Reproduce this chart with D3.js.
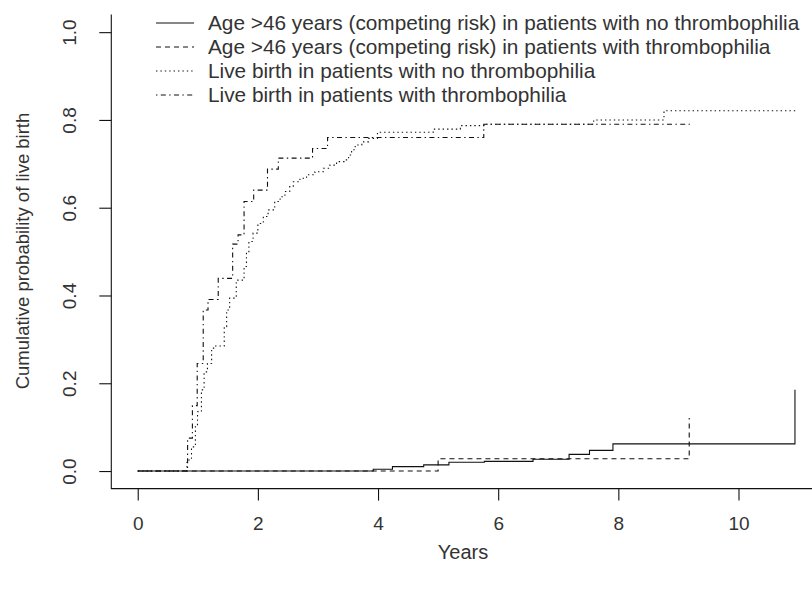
<!DOCTYPE html>
<html>
<head>
<meta charset="utf-8">
<script src="https://cdn.jsdelivr.net/npm/d3@7"></script>
<style>
body { margin: 0; background: #fff; }
svg { display: block; }
text { font-family: "Liberation Sans", Arial, sans-serif; fill: #333; }
</style>
</head>
<body>
<svg id="chart"></svg>
<script>
var w = 812,
	h = 589;

// competing risk, no thrombophilia (solid)
var crNoT = [0, 3.92, 4.24, 4.76, 5.18, 5.77, 6.58, 7.18, 7.52, 7.91, 10.94];
var crNoV = [0, 0.004, 0.010, 0.014, 0.020, 0.022, 0.027, 0.038, 0.047, 0.062, 0.185];
// competing risk, thrombophilia (dashed)
var crThT = [0, 5.00, 9.18];
var crThV = [0, 0.028, 0.121];
// live birth, no thrombophilia (dotted)
var lbNoT = [0, 0.82, 0.895, 0.96, 0.995, 1.06, 1.105, 1.16, 1.23, 1.28, 1.44, 1.48, 1.53, 1.64, 1.77,
	1.81, 1.85, 1.92, 2.0, 2.09, 2.17, 2.28, 2.37, 2.45, 2.53, 2.59, 2.7, 2.81, 2.95, 3.09, 3.2, 3.31,
	3.45, 3.51, 3.56, 3.62, 3.73, 3.84, 3.99, 4.92, 5.37, 5.76, 7.59, 8.76, 10.95];
var lbNoV = [0, 0.025, 0.055, 0.101, 0.135, 0.185, 0.226, 0.245, 0.280, 0.285, 0.329, 0.367, 0.394, 0.435, 0.466,
	0.498, 0.523, 0.542, 0.564, 0.580, 0.595, 0.614, 0.625, 0.637, 0.648, 0.659, 0.667, 0.675, 0.682, 0.690, 0.697, 0.705,
	0.709, 0.720, 0.732, 0.743, 0.750, 0.758, 0.772, 0.779, 0.787, 0.790, 0.800, 0.821, 0.821];
// live birth, thrombophilia (dot-dash)
var lbThT = [0, 0.83, 0.91, 0.99, 1.09, 1.17, 1.34, 1.58, 1.67, 1.77, 1.93, 2.16, 2.34, 2.91, 3.16, 5.76, 9.19];
var lbThV = [0, 0.075, 0.149, 0.245, 0.367, 0.391, 0.439, 0.517, 0.538, 0.614, 0.640, 0.688, 0.713, 0.735, 0.760, 0.790, 0.790];

var xTicks = [0, 2, 4, 6, 8, 10];
var yTicks = [0, 0.2, 0.4, 0.6, 0.8, 1.0];
var legendLabels = [
	"Age >46 years (competing risk) in patients with no thrombophilia",
	"Age >46 years (competing risk) in patients with thrombophilia",
	"Live birth in patients with no thrombophilia",
	"Live birth in patients with thrombophilia"
];
var dashes = ["none", "5,4", "1.4,3", "1.4,3.4,5,3.4"];

var svg = d3.select("#chart").attr("width", w).attr("height", h);

// R style: range padded by 4%
var x = d3.scaleLinear().domain([-0.44, 11.44]).range([111.3, 825]);
var y = d3.scaleLinear().domain([-0.04, 1.04]).range([488.6, 14.6]);

var series = [[crNoT, crNoV], [crThT, crThV], [lbNoT, lbNoV], [lbThT, lbThV]];

var line = d3.line()
	.x(function(d){ return x(d[0]); })
	.y(function(d){ return y(d[1]); })
	.curve(d3.curveStepAfter);

for (var i = 0; i < series.length; i++){
	var pts = series[i][0].map(function(t, j){ return [t, series[i][1][j]]; });
	svg.append("path")
		.attr("d", line(pts))
		.attr("fill", "none")
		.attr("stroke", "#111")
		.attr("stroke-width", 1.1)
		.attr("stroke-dasharray", dashes[i]);
}

// L-shaped box
svg.append("path")
	.attr("d", "M" + x(-0.44) + "," + y(1.04) + "V" + y(-0.04) + "H" + x(11.44))
	.attr("fill", "none").attr("stroke", "#111").attr("stroke-width", 1.1);

// axes
var xAxis = svg.append("g").attr("transform", "translate(0," + y(-0.04) + ")")
	.call(d3.axisBottom(x).tickValues(xTicks).tickSize(12).tickPadding(16).tickFormat(d3.format("d")));
var yAxis = svg.append("g").attr("transform", "translate(" + x(-0.44) + ",0)")
	.call(d3.axisLeft(y).tickValues(yTicks).tickSize(12).tickFormat(d3.format(".1f")));
svg.selectAll(".domain").remove();
svg.selectAll(".tick line").attr("stroke", "#111").attr("stroke-width", 1.1);
xAxis.selectAll("text").attr("font-size", 19).attr("fill", "#333").attr("font-family", "Liberation Sans, Arial");
yAxis.selectAll("text")
	.attr("font-size", 19).attr("fill", "#333").attr("font-family", "Liberation Sans, Arial")
	.attr("text-anchor", "middle").attr("dy", 0).attr("x", 0)
	.attr("transform", "translate(-35,0) rotate(-90)");

// axis titles
svg.append("text").attr("x", 463).attr("y", 559)
	.attr("text-anchor", "middle").attr("font-size", 20).text("Years");
svg.append("text").attr("transform", "translate(29,251) rotate(-90)")
	.attr("text-anchor", "middle").attr("font-size", 18.5).text("Cumulative probability of live birth");

// legend
var rowY = [23, 47, 71, 95];
for (var k = 0; k < legendLabels.length; k++){
	svg.append("line")
		.attr("x1", 156).attr("x2", 194)
		.attr("y1", rowY[k]).attr("y2", rowY[k])
		.attr("stroke", "#111").attr("stroke-width", 1.1)
		.attr("stroke-dasharray", dashes[k]);
	svg.append("text").attr("x", 208).attr("y", rowY[k] + 7)
		.attr("font-size", 20.8).text(legendLabels[k]);
}
</script>
</body>
</html>
